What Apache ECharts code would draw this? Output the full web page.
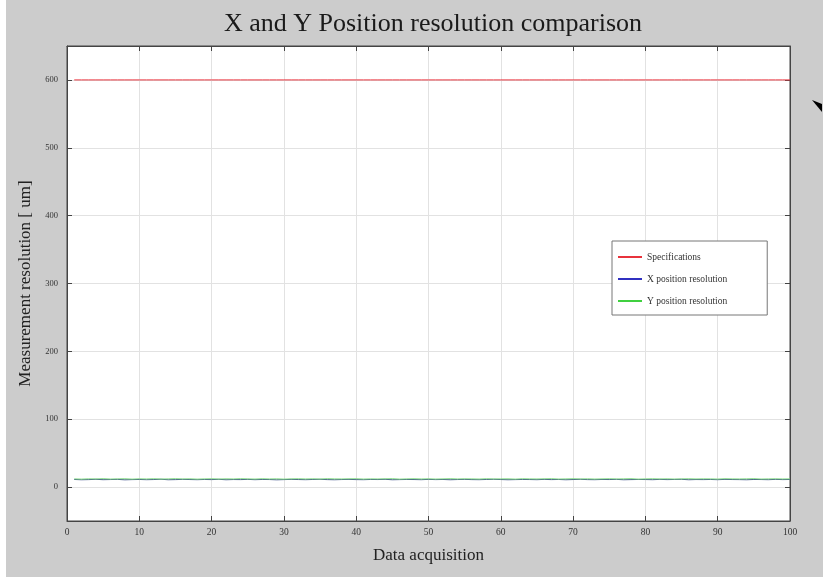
<!DOCTYPE html>
<html>
<head>
<meta charset="utf-8">
<script src="https://cdn.jsdelivr.net/npm/echarts@6/dist/echarts.min.js"></script>
<style>
html,body{margin:0;padding:0;background:#ffffff;}
#c{position:absolute;left:0;top:0;width:823px;height:577px;}
</style>
</head>
<body>
<div id="c"></div>
<script>
const titleText = 'X and Y Position resolution comparison';
const xName = 'Data acquisition';
const yName = 'Measurement resolution [ um]';
const seriesNames = ['Specifications', 'X position resolution', 'Y position resolution'];
const yTicks = [0, 100, 200, 300, 400, 500, 600];
const xTicks = [0, 10, 20, 30, 40, 50, 60, 70, 80, 90, 100];
const acquisitions = [1,2,3,4,5,6,7,8,9,10,11,12,13,14,15,16,17,18,19,20,21,22,23,24,25,26,27,28,29,30,31,32,33,34,35,36,37,38,39,40,41,42,43,44,45,46,47,48,49,50,51,52,53,54,55,56,57,58,59,60,61,62,63,64,65,66,67,68,69,70,71,72,73,74,75,76,77,78,79,80,81,82,83,84,85,86,87,88,89,90,91,92,93,94,95,96,97,98,99,100];
const specValues = [600,600,600,600,600,600,600,600,600,600,600,600,600,600,600,600,600,600,600,600,600,600,600,600,600,600,600,600,600,600,600,600,600,600,600,600,600,600,600,600,600,600,600,600,600,600,600,600,600,600,600,600,600,600,600,600,600,600,600,600,600,600,600,600,600,600,600,600,600,600,600,600,600,600,600,600,600,600,600,600,600,600,600,600,600,600,600,600,600,600,600,600,600,600,600,600,600,600,600,600];
const xResValues = [11.2,10.8,11.0,11.4,10.9,11.1,11.3,10.7,11.0,11.2,10.9,11.1,11.5,10.8,11.0,11.3,11.1,10.9,11.2,11.0,11.4,10.8,11.1,11.0,11.3,10.9,11.2,11.1,10.7,11.0,11.3,11.1,10.9,11.2,11.4,11.0,10.8,11.1,11.3,11.0,10.9,11.2,11.1,11.4,10.8,11.0,11.2,11.1,10.9,11.3,11.0,11.2,10.8,11.1,11.3,11.0,10.9,11.2,11.4,11.1,10.8,11.0,11.2,11.1,10.9,11.3,11.0,11.2,10.8,11.1,11.4,11.0,10.9,11.2,11.1,11.3,10.8,11.0,11.2,11.1,10.9,11.3,11.0,11.2,11.4,10.8,11.1,11.0,11.2,10.9,11.3,11.1,11.0,10.8,11.2,11.1,10.9,11.3,11.0,11.2];
const yResValues = [12.0,11.7,12.1,11.9,12.3,11.8,12.0,12.2,11.7,12.1,11.9,12.2,11.8,12.0,12.3,11.9,12.1,11.7,12.0,12.2,11.8,12.1,11.9,12.3,12.0,11.8,12.2,11.9,12.1,11.7,12.0,12.2,11.9,12.1,11.8,12.3,12.0,11.9,12.1,12.2,11.8,12.0,11.9,12.1,12.3,11.7,12.0,12.2,11.9,12.1,11.8,12.0,12.3,11.9,12.1,12.0,11.8,12.2,11.9,12.0,12.1,11.7,12.2,12.0,11.9,12.1,12.3,11.8,12.0,12.2,11.9,12.1,11.8,12.0,12.2,11.9,12.1,12.3,11.7,12.0,12.2,11.9,12.1,11.8,12.0,12.2,11.9,12.1,12.0,11.8,12.2,12.0,11.9,12.1,12.3,11.8,12.0,12.1,11.9,12.0];

function pairs(vals){ return acquisitions.map((x,i)=>[x, vals[i]]); }

const chart = echarts.init(document.getElementById('c'));
const serif = '"Liberation Serif", "DejaVu Serif", serif';
chart.setOption({
  backgroundColor: '#cccccc',
  animation: false,
  title: {
    text: titleText, left: 428, top: 6, textAlign: 'center',
    textStyle: {fontFamily: serif, fontSize: 26, fontWeight: 'normal', color: '#1a1a1a'}
  },
  graphic: [
    {type:'rect', left:0, top:0, shape:{x:0,y:0,width:6,height:577}, style:{fill:'#ffffff'}, silent:true},
    {type:'polygon', shape:{points:[[812,100],[822,104],[822,112]]}, style:{fill:'#000'}, silent:true}
  ],
  grid: {left: 67, right: 33, top: 46, bottom: 56, show: true, backgroundColor: '#ffffff', borderColor: '#444', borderWidth: 1},
  legend: {
    orient: 'vertical', left: 612, top: 241, itemGap: 12, itemWidth: 24, itemHeight: 2,
    backgroundColor: '#ffffff', borderColor: '#777', borderWidth: 1, padding: [11, 40, 9, 6],
    textStyle: {fontFamily: serif, fontSize: 9.5, color: '#333'},
    icon: 'rect',
    data: seriesNames
  },
  xAxis: [{
    type: 'value', min: 0, max: 100, interval: 10,
    name: xName, nameLocation: 'middle', nameGap: 26,
    nameTextStyle: {fontFamily: serif, fontSize: 17, color: '#222'},
    axisLine: {show: true, onZero: false, lineStyle: {color: '#444'}},
    axisTick: {show: true, inside: true, length: 5, lineStyle: {color: '#444'}},
    axisLabel: {fontFamily: serif, fontSize: 9.5, color: '#333', margin: 6},
    splitLine: {show: true, lineStyle: {color: '#e2e2e2', width: 1}}
  }, {
    type: 'value', min: 0, max: 100, interval: 10, position: 'top',
    axisLine: {show: true, onZero: false, lineStyle: {color: '#444'}},
    axisTick: {show: true, inside: true, length: 5, lineStyle: {color: '#444'}},
    axisLabel: {show: false}, splitLine: {show: false}
  }],
  yAxis: [{
    type: 'value', min: -50, max: 650,
    name: yName, nameLocation: 'middle', nameGap: 28, nameRotate: 90,
    nameTextStyle: {fontFamily: serif, fontSize: 17, color: '#222'},
    axisLine: {show: true, onZero: false, lineStyle: {color: '#444'}},
    axisTick: {show: true, inside: true, length: 5, customValues: yTicks, lineStyle: {color: '#444'}},
    axisLabel: {fontFamily: serif, fontSize: 8.5, color: '#333', margin: 9, customValues: yTicks},
    splitLine: {show: true, lineStyle: {color: '#e2e2e2', width: 1}}
  }, {
    type: 'value', min: -50, max: 650, position: 'right',
    axisLine: {show: true, onZero: false, lineStyle: {color: '#444'}},
    axisTick: {show: true, inside: true, length: 5, customValues: yTicks, lineStyle: {color: '#444'}},
    axisLabel: {show: false, customValues: yTicks}, splitLine: {show: false}
  }],
  series: [
    {name: seriesNames[0], type: 'line', data: pairs(specValues), showSymbol: false, color: '#e8323c', lineStyle: {width: 1, color: '#e8323c'}},
    {name: seriesNames[1], type: 'line', data: pairs(xResValues), showSymbol: false, color: '#3030c0', lineStyle: {width: 1, color: '#3a4a8a'}},
    {name: seriesNames[2], type: 'line', data: pairs(yResValues), showSymbol: false, color: '#40d040', lineStyle: {width: 1, color: '#7ad87a'}}
  ]
});
</script>
</body>
</html>
